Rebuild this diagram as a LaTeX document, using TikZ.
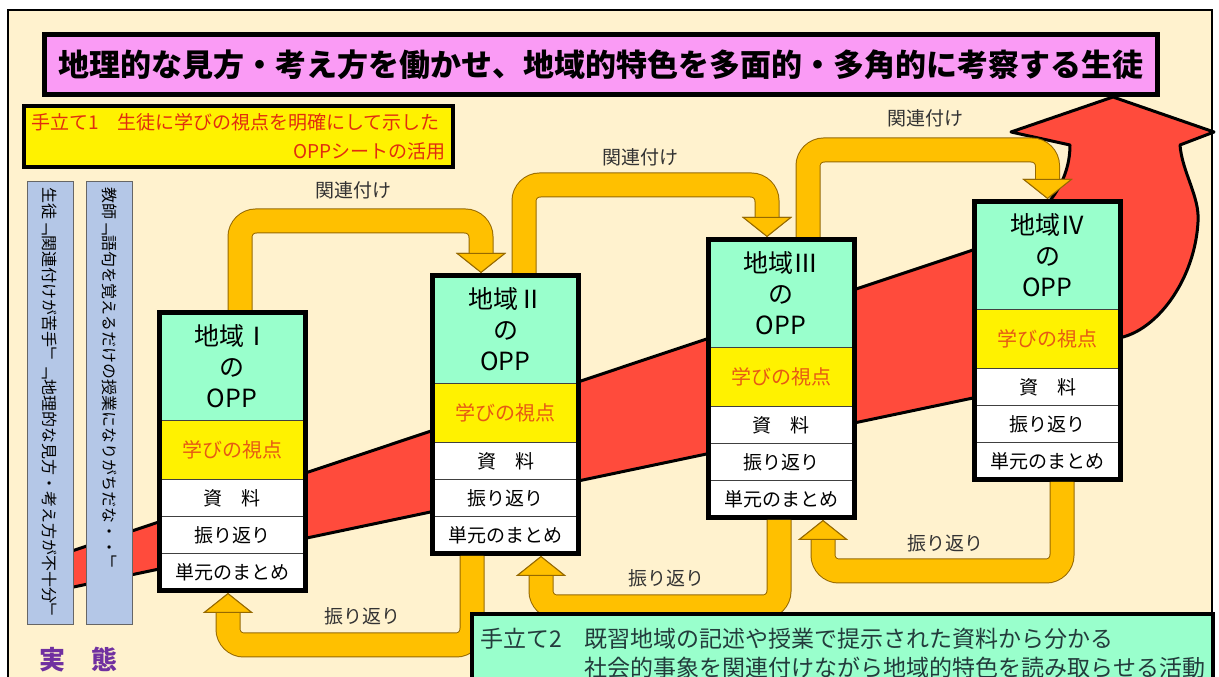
\documentclass[tikz,border=0pt]{standalone}
\usepackage{fontspec}
\setmainfont{Noto Sans CJK JP}
\newfontfamily\tatefont{Noto Sans CJK JP}[Vertical=RotatedGlyphs]
\usepackage{xcolor}
\usetikzlibrary{arrows, arrows.meta}
\usetikzlibrary{positioning}
\usetikzlibrary{fit}
\definecolor{cream}{RGB}{255,242,206}
\definecolor{titlepink}{RGB}{250,155,245}
\definecolor{mint}{RGB}{153,255,204}
\definecolor{gold}{RGB}{255,192,0}
\definecolor{goldline}{RGB}{150,105,0}
\definecolor{bandred}{RGB}{255,75,60}
\definecolor{paleblue}{RGB}{180,199,231}
\definecolor{textred}{RGB}{225,45,15}
\definecolor{vieworange}{RGB}{230,90,20}
\definecolor{jittai}{RGB}{112,48,160}
\definecolor{planink}{RGB}{35,60,60}

\begin{document}
\begin{tikzpicture}[x=1pt, y=1pt,
	oppcell/.style={draw=black!75, line width=1pt, minimum width=146pt, inner sep=0pt, outer sep=0pt, align=center},
	opphead/.style={oppcell, fill=mint, minimum height=108pt, font=\fontsize{25}{31}\selectfont},
	oppview/.style={oppcell, fill=yellow, minimum height=59pt, text=vieworange, font=\fontsize{20}{24}\selectfont},
	opprow/.style={oppcell, fill=white, minimum height=37pt, font=\fontsize{19}{23}\selectfont},
	oppframe/.style={draw=black, line width=5pt, inner sep=0pt},
	linkband/.style={draw=gold, line width=23pt, rounded corners=16pt, preaction={draw=goldline, line width=25pt},
		-{Triangle[width=50pt, length=20pt, line width=1pt, fill=gold, color=goldline]}},
	linklabel/.style={font=\fontsize{19}{23}\selectfont, text=black!80},
	sidebox/.style={draw=black!60, line width=1pt, fill=paleblue, rotate=-90, minimum height=46pt,
		inner sep=6pt, text width=431pt, align=left, font=\tatefont\fontsize{16}{18}\selectfont}]
	\newcommand\oppsheet[4]{
		\node[opphead, anchor=north] (o#1h) at (#2,#3) {地域#4\\の\\OPP};
		\node[oppview, below=0pt of o#1h] (o#1v) {学びの視点};
		\node[opprow, below=0pt of o#1v] (o#1d) {資　料};
		\node[opprow, below=0pt of o#1d] (o#1r) {振り返り};
		\node[opprow, below=0pt of o#1r] (o#1s) {単元のまとめ};
		\node[oppframe, fit=(o#1h)(o#1s)] (opp#1) {};
	}
	\useasboundingbox (0,0) rectangle (1219,677);
	\clip (0,0) rectangle (1219,677);
	\fill[white] (0,0) rectangle (1219,677);
	\draw[line width=2pt, fill=cream] (8,667) rectangle (1212,-10);

	\draw[line width=3pt, fill=bandred, line join=round] (45,117) -- (973,427)
		.. controls (1040,450) and (1070,490) .. (1070,532) -- (1011,545) -- (1113,580) -- (1214,545) -- (1180,532)
		.. controls (1182,505) and (1200,480) .. (1198,455)
		.. controls (1195,400) and (1160,350) .. (1123,340)
		.. controls (1060,320) and (1000,290) .. (973,279) -- (45,84) -- cycle;

	\node[sidebox] (pupil) at (50,273.5) {生徒「関連付けが苦手」「地理的な見方・考え方が不十分」};
	\node[sidebox] (teacher) at (109.5,273.5) {教師「語句を覚えるだけの授業になりがちだな・・」};
	\node[text=jittai, font=\bfseries\fontsize{26}{30}\selectfont] (jittai) at (78,17) {実　態};

	\node[draw=black, line width=5pt, fill=titlepink, minimum width=1113pt, minimum height=60pt,
		font=\bfseries\fontsize{31}{36}\selectfont] (goal) at (601,612.5)
		{地理的な見方・考え方を働かせ、地域的特色を多面的・多角的に考察する生徒};
	\node[draw=black, line width=4pt, fill=yellow, text=textred, text width=415pt, inner sep=7pt, align=left,
		font=\fontsize{19}{29}\selectfont] (plan1) at (238.5,540.5)
		{手立て1　生徒に学びの視点を明確にして示した\\\hfill OPPシートの活用};

	\oppsheet{1}{232}{364.5}{Ⅰ}
	\oppsheet{2}{505.5}{401.5}{Ⅱ}
	\oppsheet{3}{781}{437.5}{Ⅲ}
	\oppsheet{4}{1047.5}{475.5}{Ⅳ}

	\draw[linkband] ([xshift=8pt]opp1.north) -- ++(0,89) -| ([xshift=-24.5pt]opp2.north);
	\draw[linkband] ([xshift=18.5pt]opp2.north) -- ++(0,88) -| ([xshift=-14pt]opp3.north);
	\draw[linkband] ([xshift=27pt]opp3.north) -- ++(0,87) -| (opp4.north);
	\draw[linkband] ([xshift=-33.5pt]opp2.south) -- ++(0,-89) -| ([xshift=-4pt]opp1.south);
	\draw[linkband] ([xshift=-2pt]opp3.south) -- ++(0,-87) -| ([xshift=35.5pt]opp2.south);
	\draw[linkband] ([xshift=14.5pt]opp4.south) -- ++(0,-89) -| ([xshift=42pt]opp3.south);

	\node[linklabel] (link1) at (353,487) {関連付け};
	\node[linklabel] (link2) at (640,520) {関連付け};
	\node[linklabel] (link3) at (925,559) {関連付け};
	\node[linklabel] (back1) at (362,61) {振り返り};
	\node[linklabel] (back2) at (666,99) {振り返り};
	\node[linklabel] (back3) at (945,134) {振り返り};

	\node[draw=black, line width=4pt, fill=mint, text=planink, anchor=north west, minimum height=78pt,
		text width=725pt, inner sep=8pt, align=left, font=\fontsize{23}{29}\selectfont] (plan2) at (470,65)
		{手立て2　既習地域の記述や授業で提示された資料から分かる\\\hfill 社会的事象を関連付けながら地域的特色を読み取らせる活動};
\end{tikzpicture}
\end{document}
